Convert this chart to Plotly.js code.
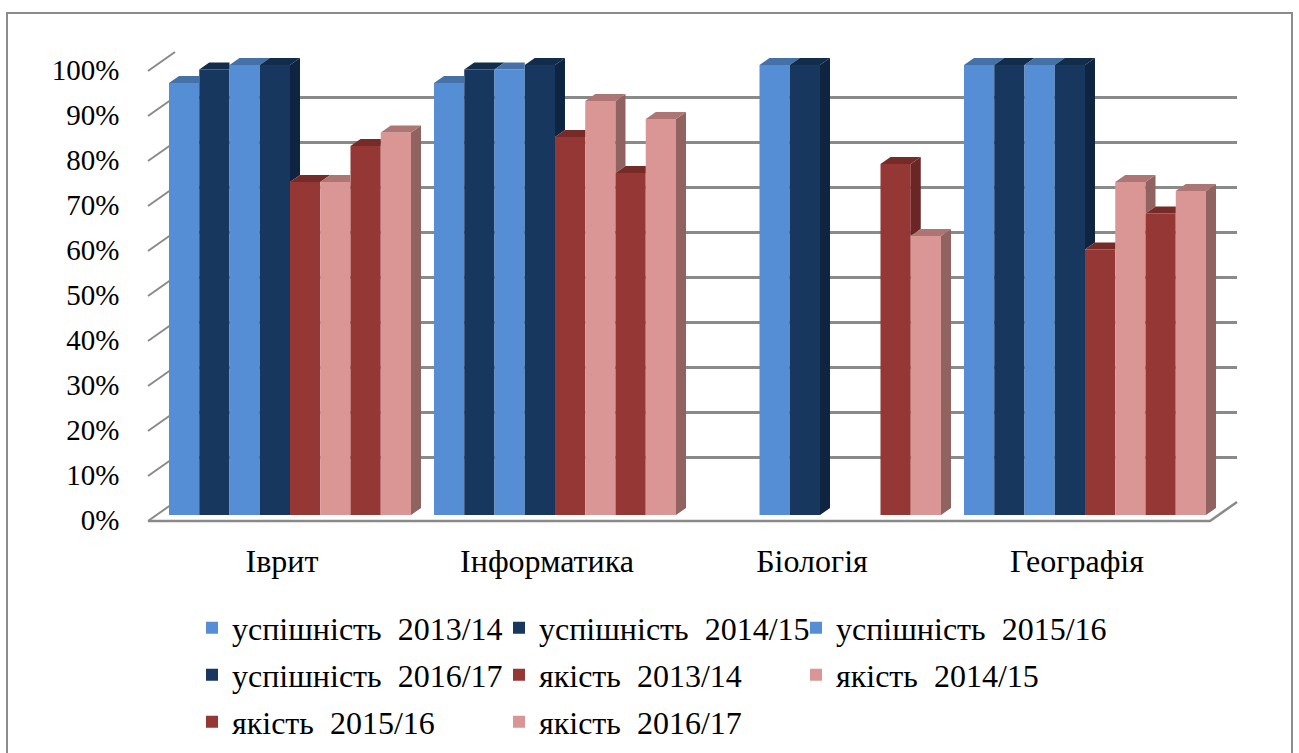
<!DOCTYPE html>
<html><head><meta charset="utf-8">
<script src="https://cdn.plot.ly/plotly-3.0.1.min.js"></script>
<style>
html,body{margin:0;padding:0;background:#fff}
#wrap{position:relative;width:1299px;height:753px}
#fontwarm{position:absolute;left:40px;top:300px;z-index:0;font-family:'Liberation Serif';font-size:30px;color:#fff}
#chart{position:absolute;left:0;top:0;z-index:1;width:1299px;height:753px}
.modebar-container,.modebar{display:none !important}
</style>
</head><body><div id="wrap"><div id="fontwarm">%</div><div id="chart"></div></div>
<script>
// ---- data ----
const categories = ['Іврит', 'Інформатика', 'Біологія', 'Географія'];
const seriesNames = ['успішність  2013/14', 'успішність  2014/15', 'успішність  2015/16', 'успішність  2016/17',
                     'якість  2013/14', 'якість  2014/15', 'якість  2015/16', 'якість  2016/17'];
const uspishnist_2013_14 = [96, 96, null, 100];
const uspishnist_2014_15 = [99, 99, null, 100];
const uspishnist_2015_16 = [100, 99, 100, 100];
const uspishnist_2016_17 = [100, 100, 100, 100];
const yakist_2013_14 = [74, 84, null, 59];
const yakist_2014_15 = [74, 92, null, 74];
const yakist_2015_16 = [82, 76, 78, 67];
const yakist_2016_17 = [85, 88, 62, 72];
const tickVals = [0, 10, 20, 30, 40, 50, 60, 70, 80, 90, 100];
const tickLabels = ['0%', '10%', '20%', '30%', '40%', '50%', '60%', '70%', '80%', '90%', '100%'];

const seriesValues = [uspishnist_2013_14, uspishnist_2014_15, uspishnist_2015_16, uspishnist_2016_17,
                      yakist_2013_14, yakist_2014_15, yakist_2015_16, yakist_2016_17];

// ---- styles ----
const W = 1299, H = 753;
const toPX = x => x / W, toPY = y => 1 - y / H;
const SERIF = 'Liberation Serif';
const front = ['#558ED5', '#17375E', '#558ED5', '#17375E', '#953735', '#D99694', '#953735', '#D99694'];
const topC  = ['#4471A8', '#122C4B', '#4471A8', '#122C4B', '#762B29', '#AD7674', '#762B29', '#AD7674'];
const sideC = ['#3A6596', '#0F2440', '#3A6596', '#0F2440', '#6A2624', '#906260', '#6A2624', '#906260'];
const GROUP = 242 / 265;           // group width in category units
const BW = GROUP / 8;              // bar width
const DX = 10 / 265, DY = 7 / 4.5; // 3D depth offset (x units, % units)
const PXPCT = 4.5;                 // pixels per percent
const YTOP = 105;                  // headroom so top faces are not clipped
const legendCols = [213, 520, 817], legendRows = [628, 675, 722];
const legendId = i => i === 0 ? 'legend' : 'legend' + (i + 1);

const traces = [];
// empty trace that creates the back-wall (grid) subplot
traces.push({type: 'scatter', x: [], y: [], xaxis: 'x', yaxis: 'y', showlegend: false, hoverinfo: 'skip'});

const xIdx = categories.map((c, i) => i);
seriesValues.forEach((vals, i) => {
  traces.push({
    type: 'bar', name: seriesNames[i], x: xIdx, y: vals, xaxis: 'x2', yaxis: 'y2',
    width: BW, offset: -GROUP / 2 + i * BW,
    marker: {color: front[i], line: {width: 0}}, legend: legendId(i), hoverinfo: 'skip'
  });
});
// 3D top and side faces, computed from the same values
seriesValues.forEach((vals, i) => {
  const tx = [], ty = [], sx = [], sy = [];
  vals.forEach((v, c) => {
    if (v == null) return;
    const x0 = c - GROUP / 2 + i * BW, x1 = x0 + BW;
    const nxt = i < 7 ? seriesValues[i + 1][c] : null;
    if (nxt != null && nxt > v) {
      tx.push(x0, x1, x1, x0 + DX, x0, null); ty.push(v, v, v + DY, v + DY, v, null);
    } else {
      tx.push(x0, x1, x1 + DX, x0 + DX, x0, null); ty.push(v, v, v + DY, v + DY, v, null);
    }
    const nb = nxt != null ? nxt : 0;
    if (nb < v) {
      sx.push(x1, x1, x1 + DX, x1 + DX, x1, null); sy.push(nb, v, v + DY, nb + DY, nb, null);
    }
  });
  traces.push({type: 'scatter', mode: 'lines', x: sx, y: sy, xaxis: 'x2', yaxis: 'y2', fill: 'toself',
    fillcolor: sideC[i], line: {width: 0}, showlegend: false, hoverinfo: 'skip'});
  traces.push({type: 'scatter', mode: 'lines', x: tx, y: ty, xaxis: 'x2', yaxis: 'y2', fill: 'toself',
    fillcolor: topC[i], line: {width: 0}, showlegend: false, hoverinfo: 'skip'});
});

// decorations: floor and left-wall ticks
const GRAY = '#8A8A8A';
const shapes = [];
shapes.push({type: 'path', xref: 'paper', yref: 'paper', layer: 'below',
  path: `M${toPX(148)},${toPY(521)} L${toPX(1210)},${toPY(521)} L${toPX(1237)},${toPY(502)}`,
  line: {color: GRAY, width: 2.5}});
tickVals.forEach(t => {
  shapes.push({type: 'line', xref: 'paper', yref: 'paper', layer: 'below',
    x0: toPX(148), y0: toPY(521 - PXPCT * t), x1: toPX(175), y1: toPY(502 - PXPCT * t),
    line: {color: GRAY, width: 2}});
});
shapes.push({type: 'rect', xref: 'paper', yref: 'paper', layer: 'above',
  x0: toPX(7), y0: toPY(13), x1: toPX(1292), y1: toPY(770), line: {color: '#8C8C8C', width: 2}});

const layout = {
  width: W, height: H, margin: {l: 0, r: 0, t: 0, b: 0},
  paper_bgcolor: '#fff', plot_bgcolor: 'rgba(0,0,0,0)',
  barmode: 'overlay', hovermode: false, showlegend: true,
  font: {family: SERIF, color: '#000'},
  xaxis: {domain: [toPX(175), toPX(1237)], range: [0, 1], anchor: 'y', showgrid: false, zeroline: false,
    showline: false, showticklabels: false, ticks: ''},
  yaxis: {domain: [toPY(502), toPY(52)], range: [0, 100], anchor: 'x', tickvals: tickVals, showgrid: true,
    gridcolor: GRAY, gridwidth: 2.5, zeroline: false, showline: false, showticklabels: false, ticks: ''},
  xaxis2: {domain: [toPX(157.5), toPX(1217.5)], range: [-0.5, 3.5], anchor: 'y2', type: 'linear',
    tickvals: xIdx, ticktext: categories, showgrid: false, zeroline: false, showline: false, ticks: '',
    ticklabelstandoff: 24, ticklabelshift: -8, tickfont: {family: SERIF, size: 32, color: '#000'}},
  yaxis2: {domain: [toPY(515), toPY(515 - PXPCT * YTOP)], range: [0, YTOP], anchor: 'x2', tickvals: tickVals,
    ticktext: tickLabels, showgrid: false, zeroline: false, showline: false, ticks: '',
    ticklabelstandoff: 37, ticklabelshift: 5, tickfont: {family: SERIF, size: 29, color: '#000'}},
  shapes: shapes
};
seriesNames.forEach((n, i) => {
  layout[legendId(i)] = {orientation: 'h', xref: 'paper', yref: 'paper', xanchor: 'left', yanchor: 'middle',
    x: toPX(legendCols[i % 3] - 21), y: toPY(legendRows[Math.floor(i / 3)]),
    font: {family: SERIF, size: 32, color: '#000'}, bgcolor: 'rgba(0,0,0,0)'};
});

function forceSerif() {
  document.querySelectorAll('#chart svg text').forEach(t => {
    t.style.fontFamily = "'Liberation Serif'";
  });
}
function draw() {
  return Plotly.newPlot('chart', traces, layout).then(forceSerif);
}
const fontReady = (document.fonts && document.fonts.load)
  ? document.fonts.load("30px 'Liberation Serif'", 'успішність 0%').catch(() => null)
  : Promise.resolve();
fontReady.then(draw, draw);
</script>
</body></html>
